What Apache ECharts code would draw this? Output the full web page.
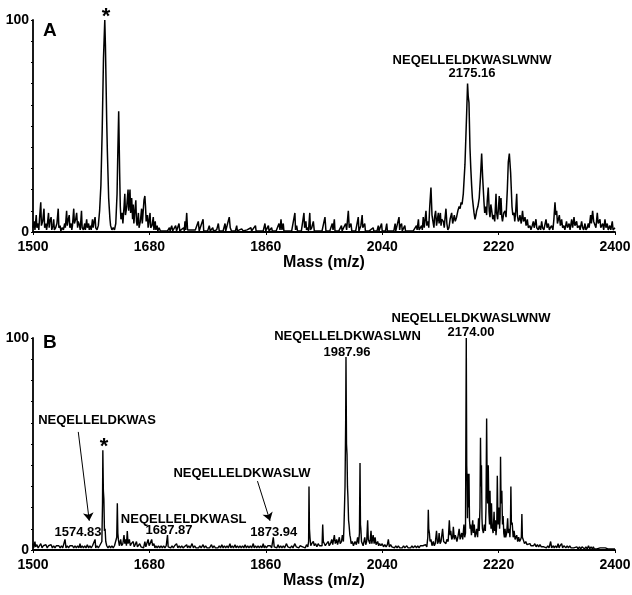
<!DOCTYPE html>
<html><head><meta charset="utf-8">
<script src="https://cdn.jsdelivr.net/npm/echarts@6/dist/echarts.min.js"></script>
<style>html,body{margin:0;padding:0;background:#fff}#c{width:632px;height:595px}</style>
</head><body><div id="c"></div>
<script>
// ---------- data ----------
const massTicks = [1500, 1680, 1860, 2040, 2220, 2400];
const abundanceTicks = [0, 10, 20, 30, 40, 50, 60, 70, 80, 90, 100];
const abundanceLabels = [0, 100];

// Panel A spectrum [m/z, relative abundance]
const spectrumA_low = [
[1500,2],[1502,5],[1503,1],[1505,8],[1506,2],[1508,4],[1509,1],[1510,6],[1512,14],[1513,3],[1515,5],[1517,11],[1518,2],[1520,4],[1521,1],[1522,3],[1524,9],[1525,2],[1526,5],[1528,7],[1529,1],[1531,3],[1532,6],[1533,1],[1535,2],[1537,4],[1539,11],[1540,2],[1542,3],[1543,0.5],[1545,2],[1547,1],[1549,4],[1550,2],[1552,10],[1553,3],[1554,5],[1556,8],[1557,2],[1559,4],[1560,1],[1561,3],[1563,11],[1564,4],[1566,6],[1567.5,9],[1569,2],[1570,5],[1572,3],[1573,1],[1575,10],[1576,2],[1578,1],[1580,4],[1581,1],[1583,6],[1584,2],[1586,4],[1587,1],[1589,3],[1590,1],[1592,6],[1593,2],[1594,4],[1596,7],[1597,2],[1599,1],
[1601,3],[1603,10],[1605,22],[1607,48],[1609,82],[1611,100],[1612,88],[1613,70],[1614,52],[1615,38],[1617,16],[1619,6],[1620,3],[1622,1],[1624,2],[1626,1],[1628,4],[1630,18],[1631,35],[1632.5,57],[1634,28],[1635,12],[1636,6],[1638,9],[1639,4],[1641,13],[1642,18],[1643,8],[1645,12],[1647,20],[1648,10],[1650,20],[1651,9],[1652.6,16],[1654,6],[1655,13],[1656,4],[1657,8],[1659,15],[1660,5],[1661,3],[1663,9],[1664,2],[1666,5],[1668,11],[1669,4],[1670,8],[1671.6,15],[1673,17],[1674,12],[1675,5],[1677,8],[1678,2],[1679,4],[1681,9],[1682,2],[1684,3],[1686,7],[1687,1],[1689,5],[1690,1],[1692,3],[1693,0.5],[1695,2],[1697,0.5],[1700,1],[1703,0.5],[1705,1]
];
const spectrumA_mid = [
[1708,0.5],[1711,2],[1712,0.5],[1714.5,3],[1716,0.5],[1719,1],[1720.6,3],[1722,0.5],[1724,1],[1725.8,4],[1727,0.5],[1730,1],[1733,2],[1734,0.5],[1735,5],[1736,1],[1737.7,9],[1739,1],[1742,0.5],[1745,1],[1748,0.5],[1751,1],[1753,0.5],[1755.6,5],[1757,0.5],[1760,1],[1763,6],[1764,0.5],[1767,1],[1770,0.5],[1772.6,3],[1774,0.5],[1776,1],[1778,2],[1779,0.5],[1782,0.5],[1784,1],[1786.6,4],[1788,0.5],[1791,1],[1794,0.5],[1797,4],[1798,0.5],[1801,1],[1803.5,7],[1805,2],[1807,0.5],
[1810,1],[1813,0.5],[1815,3],[1816,0.5],[1819,1],[1822.7,1.5],[1825,0.5],[1828,0.5],[1831,1],[1834,0.5],[1837,2],[1838,0.5],[1841,1],[1844,3],[1845,0.5],[1848,1],[1851,0.5],[1854,1],[1856,0.5],[1858.7,4],[1860,0.5],[1862,1],[1864,3],[1865,0.5],[1867,1],[1869,2],[1870,0.5],[1873,1],[1876,0.5],[1878,1],[1880.4,4],[1882,1],[1883.5,6],[1885,1],[1887,4],[1888,0.5],[1891,1],[1894,0.5],[1897,1],[1900,0.5],[1903,1],[1905,9],[1906,1],[1907.7,3],[1909,0.5],[1912,1],[1915,0.5],[1917,1],[1919,9],[1920,2],[1922,5],[1923,1],[1925,2],[1926,0.5],[1928,9],[1929,1],[1931,2],[1933.5,5],[1935,0.5],[1938,1],[1941,0.5],[1944,1],[1947,0.5],[1949,1],[1951.5,7],[1953,0.5],[1956,1],[1959,0.5],[1961,1],[1962.8,4],[1964,1],[1966,6],[1967,0.5],[1970,1],[1973,0.5],[1975,1],[1977,3],[1978,0.5],[1980,1],[1983.5,4],[1985,1],[1987.6,10],[1989,2],[1991.7,4],[1993,0.5],[1996,1],[1999,0.5],[2001,1],[2003,7],[2004,0.5],[2006,1],[2007,3],[2009,8],[2010,2],[2013,4],[2014,0.5],[2017,1],[2020,0.5],[2023,1],[2026,2],[2027,0.5],[2030,1],[2032,0.5],[2034,3],[2035,0.5],[2037,1],[2039,4],[2040,0.5],[2043,1],[2045,0.5],[2047,4],[2048,0.5],[2051,1],[2054,0.5],[2057,1],[2058,0.5],[2060,4],[2061,0.5],[2063,1],[2064,0.5],[2066,7],[2067,1],[2068,3],[2070,4],[2071,0.5],[2073,1],[2075,3],[2076,0.5],[2079,1],[2082,0.5],[2085,1],[2088,0.5],[2090,1],[2093,3],[2094,1],[2096,6],[2097,1],[2099,2],[2101,3],[2102,1]
];
const spectrumA_high = [
[2103.5,7],[2105,2],[2107.7,10],[2109,3],[2111,5],[2112,2],[2113.5,12],[2115.4,21],[2117,8],[2119,4],[2120,2],[2121,7],[2122.6,10],[2124,3],[2125,5],[2126.8,9],[2128,4],[2130,9],[2131,3],[2132,6],[2134.5,5],[2136,2],[2137,6],[2138.6,11],[2140,4],[2141.5,1],[2143.2,2],[2145,6],[2147.4,9],[2149,4],[2151.5,8],[2153,5],[2155,7],[2157,10],[2159,12],[2160.5,11],[2162,14],[2163.5,13],[2165.4,18],[2166.5,24],[2168,32],[2170.6,56],[2172,70],[2173,64],[2174.2,61],[2175.7,40],[2177,30],[2178.3,22],[2179.5,16],[2180.9,12],[2182,9],[2183.5,6],[2185,8],[2186,10],[2188,12],[2190,16],[2192,26],[2193.8,37],[2195.3,26],[2197.4,14],[2198.5,9],[2200,12],[2201.5,8],[2202.5,15],[2204,21],[2205.5,10],[2206.7,7],[2208,13],[2209,11],[2211,6],[2212.8,8],[2214,5],[2216,18],[2217,9],[2218.5,6],[2219.5,10],[2221,17],[2222.5,8],[2223.7,16],[2225,7],[2226,5],[2228,9],[2230,10],[2231.5,7],[2233.5,20],[2235,33],[2236.6,37],[2238.6,28],[2240.7,12],[2242,8],[2243.8,9],[2245,5],[2246.5,10],[2248,18],[2249,8],[2250.5,5],[2252,6],[2253,8],[2255,4],[2257,10],[2258.5,5],[2260.8,7],[2262.5,3],[2264.4,6],[2266,2],[2268.5,3],[2270,1],[2272,3],[2273.7,5],[2275,2],[2277.8,6],[2279,2],[2281.4,1],[2283,3],[2285,1],[2286.6,5],[2288,2],[2290,1],[2293.3,6],[2295,2],[2296.9,4],[2298.5,1],[2300,2],[2302,3],[2304,1],[2305.5,6],[2307.2,14],[2308.5,8],[2309.8,10],[2311,4],[2312.5,6],[2313.9,8],[2315.5,3],[2317.5,6],[2319,2],[2321,3],[2322.5,1],[2325,5],[2326.5,2],[2329,4],[2330.5,1],[2333,6],[2334.5,2],[2336.6,7],[2338,3],[2340.7,5],[2342,2],[2344.8,3],[2346,1],[2348.4,5],[2350,2],[2351.5,1],[2353.6,4],[2355,1],[2357,2],[2358.7,4],[2360,2],[2362.3,8],[2363.5,4],[2365.4,10],[2367,5],[2369,5],[2370.5,2],[2372.6,9],[2374,4],[2376.8,6],[2378,2],[2381,4],[2382.5,1],[2384.5,6],[2386,2],[2388,4],[2389.5,1],[2392,3],[2393.5,1],[2395.8,5],[2397,1],[2400,2]
];

// Panel B spectrum
const spectrumB_low = [
[1500,3],[1501,1],[1503,4],[1504,1.5],[1506,2.5],[1508,1],[1510,2],[1512,3],[1514,1],[1516,2],[1518,1.5],[1520,2.5],[1522,1],[1524,2],[1526,1.5],[1528,2.5],[1530,1],[1532,2],[1534,1],[1536,2],[1538,1.5],[1540,2],[1542,1],[1544,2],[1546,1],[1548,1.5],[1549.5,5],[1551,1],[1553,2],[1555,1],[1557,2],[1559,1.5],[1561,2],[1563,1],[1565,2],[1567,1],[1569,2],[1571,1],[1572.7,3],[1574,1],[1576,2],[1578,1],[1580,2],[1582,1],[1584,2.5],[1586,1],[1588,2],[1590,1],[1592,2],[1594,1.5],[1596,5],[1597,1],[1599,2],[1601,1],[1603,2],[1605,1.5],[1606.5,4],[1607.5,22],[1608,47],[1608.8,28],[1609.6,24],[1610.5,9],[1611.5,10],[1612.5,4],[1614,2],[1616,1],[1618,2],[1620,1],[1622,2],[1624,1],[1626,2],[1628,1.5],[1629.5,6],[1630.4,22],[1631.2,8],[1632,5],[1633.5,2],[1635.6,5],[1637,2],[1639,3],[1640.7,7],[1642,3],[1643.3,5],[1644.5,2],[1645.8,9],[1647,3],[1649,5],[1650.5,2],[1652,3],[1655,4],[1656.5,1.5],[1658,2.5],[1660,4],[1661.5,1.5],[1663,2],[1665,3],[1667,1.5],[1669,2],[1671,1],[1673,4],[1674.5,1.5],[1676,2],[1678,5],[1679.5,2],[1681,3],[1683.5,5],[1685,2],[1687,3],[1688.5,1],[1690,2],[1692,1],[1694,2],[1696,1],[1698,2],[1700,1],[1702,2],[1704,1],[1706,2],[1708,7],[1709,1.5],[1711,2],[1713,1],[1715,2],[1717,1],[1719,2],[1722,3],[1724,1],[1726,2],[1728,1],[1730,2],[1732,1],[1734,1.5],[1737.7,2.5],[1739,1],[1741,2],[1743,1],[1746,3],[1748,1],[1750,2],[1752,1],[1754,1.5],[1756,1],[1758,2],[1760,1],[1763,2.5],[1765,1],[1767,2],[1769,1],[1771,1.5],[1773,1],[1776,2.5],[1778,1],[1780,2],[1782,1],[1784,1.5],[1786,1],[1788,2],[1790,1],[1792,2.5],[1794,1],[1796,2],[1798,1],[1800,2],[1802,1]
];
const spectrumB_mid = [
[1804.6,3],[1806,1],[1808,2],[1810,1],[1812.4,2.5],[1814,1],[1816,2],[1818,1],[1820,2],[1822,1],[1824,2],[1826,1],[1828,2.5],[1830,1],[1832,2],[1834,1],[1836,2],[1838,1],[1840.7,3],[1842,1],[1844,2],[1846,1],[1848,2],[1850,1],[1852,2],[1854,1],[1856,3],[1857.5,1],[1859,2],[1861,1],[1863,2],[1865,1.5],[1867,2],[1869,1],[1871.6,6],[1873,1.5],[1875,2],[1877,1],[1879,2.5],[1881,1],[1883,2],[1885,1],[1887,2],[1889,1],[1892,3],[1894,1.5],[1896,2],[1898,1],[1900,2],[1902,1],[1905,3],[1907,1.5],[1909,2],[1911,1],[1913,2],[1915.5,2.5],[1917,1.5],[1919,2],[1921,1],[1923,2.5],[1925,1.5],[1926.2,4],[1926.8,30],[1927.5,10],[1928.3,6],[1929.5,2],[1931,3],[1933.5,4],[1935,2],[1937,3],[1939,1.5],[1941,3],[1943,2],[1945,2.5],[1947,2],[1948,12],[1949,4],[1950,4],[1952,2],[1954,3],[1956.7,4],[1958,2],[1960,3],[1962,5],[1963.5,2.5],[1966,7],[1967.5,3],[1969.6,5],[1971,2.5],[1973.7,6],[1975,3],[1977,4],[1978.4,7],[1980,4],[1981,12],[1982.5,30],[1983.5,60],[1984,91],[1984.8,50],[1985.6,45],[1986.3,30],[1987,25],[1988,14],[1988.7,12],[1990,7],[1990.7,6],[1992,3],[1993.8,4],[1995.5,2],[1998,4],[2000,2.5],[2002,6],[2003.5,3],[2004.8,8],[2005.7,41],[2006.4,12],[2007,10],[2008,4],[2009,4],[2010.5,2],[2013,6],[2014.5,2.5],[2016,4],[2017.5,14],[2018.5,5],[2019.6,5],[2021,3],[2022.7,9],[2024,3],[2026,7],[2027.5,3],[2029,6],[2030.5,2.5],[2033,4],[2034.5,2],[2036,3],[2038,2],[2040,3],[2042,1.5],[2044,2.5],[2046,1.5],[2048,2.5],[2049.5,5],[2051,1.5],[2053,2.5],[2055,1.5],[2057,2],[2059,1],[2061,2],[2063,1],[2065,2],[2067,1],[2069,1.5],[2071,1],[2073,2],[2075,1],[2078,2],[2080,1],[2082,1.5],[2084,1],[2086,2],[2088,1],[2091,2],[2093,1],[2095,2],[2097,1],[2099,2],[2101,1.5],[2103,2],[2105,1.5],[2107,2.5],[2109,1.5]
];
const spectrumB_high = [
[2110.5,6],[2111.3,19],[2112,10],[2113,8],[2114,4],[2115.4,5],[2117,2],[2119,4],[2120.5,2],[2122,3],[2124,9],[2125.5,3],[2127,4],[2128,8],[2129.5,3],[2131,4],[2133.4,10],[2135,4],[2137,4],[2138.5,3],[2140,5],[2142,4],[2143.8,14],[2145,7],[2146,9],[2147.5,5],[2149,6],[2150,11],[2151.5,5],[2153,7],[2154,6],[2155.5,4],[2157,6],[2159,10],[2160.5,5],[2162,7],[2163,8],[2164.5,5],[2166.4,12],[2167.5,6],[2168.8,8],[2170,100],[2170.7,40],[2171.3,33],[2171.9,15],[2172.6,36],[2173.4,20],[2174.2,36],[2175,14],[2176,10],[2176.8,12],[2178,7],[2180,14],[2181,8],[2182.4,12],[2183.5,6],[2185,8],[2186,10],[2187.5,6],[2189,15],[2190,9],[2191.2,20],[2192,53],[2192.8,30],[2193.5,40],[2194.3,15],[2195,10],[2196.5,8],[2198,12],[2199.5,9],[2200.5,20],[2201.5,62],[2202.3,30],[2203,22],[2204,40],[2205,18],[2206,12],[2206.7,28],[2207.5,14],[2208.3,10],[2209,22],[2210,11],[2211.5,8],[2213,18],[2214,9],[2215,14],[2216,7],[2217.2,12],[2218,35],[2218.8,18],[2219.5,12],[2220.6,20],[2221.5,10],[2222.3,15],[2223,44],[2223.8,22],[2225,28],[2226,12],[2227,16],[2228,8],[2229,6],[2230,10],[2231,6],[2232.5,8],[2234,15],[2235,8],[2236.5,10],[2237.5,6],[2238.3,12],[2239,30],[2239.8,12],[2241,13],[2242.5,6],[2244,9],[2245.5,5],[2247,5],[2248,7],[2249.5,4],[2251,6],[2252.5,4],[2254,5],[2255.2,6],[2256,17],[2256.8,6],[2258,5],[2260,3],[2262,4],[2264,2.5],[2266,3],[2268.5,3],[2270,2],[2272,2.5],[2274,2],[2276,3],[2278,1.5],[2280,2.5],[2282,1.5],[2284,2.5],[2286,1.5],[2288,2],[2290,1.5],[2292,2],[2294,1],[2296,2],[2298,1],[2300.5,4],[2302,1],[2304.6,2],[2306,1],[2308,2],[2310,1],[2312,3],[2313.5,1],[2315,2],[2317.5,3],[2319,1],[2321,2],[2322.6,2.5],[2324,1],[2326,2],[2328,1],[2330,2],[2332,1],[2334,1.5],[2336,1],[2338,1.5],[2341,1.5],[2343,0.5],[2345,1.5],[2347,0.5],[2349,1.5],[2351,1.5],[2353,0.5],[2355,1.5],[2357,0.5],[2359,2],[2361,0.5],[2363,1.5],[2365,0.5],[2366.5,1.5],[2368,0.5],[2370,1],[2372,0.5],[2374,1],[2377,1],[2379,0.5],[2381,1],[2383,0.5],[2385,1],[2387,1],[2389,0.5],[2391,1],[2393,0.5],[2395,1],[2397,0.5],[2400,0.5]
];

// Annotations (text anchored at data coordinates)
const notesA = [
  {kind:'letter', text:'A', at:[1526, 94.8]},
  {kind:'star', text:'*', at:[1612.9, 101.5]},
  {kind:'label', text:'NEQELLELDKWASLWNW', at:[2178.9, 81.1]},
  {kind:'label', text:'2175.16', at:[2178.9, 75]}
];
const notesB = [
  {kind:'letter', text:'B', at:[1526, 97.6]},
  {kind:'star', text:'*', at:[1609.8, 48.4]},
  {kind:'label', text:'NEQELLELDKWAS', at:[1599, 61.3]},
  {kind:'label', text:'1574.83', at:[1569.6, 8.5]},
  {kind:'label', text:'NEQELLELDKWASL', at:[1733, 14.6]},
  {kind:'label', text:'1687.87', at:[1710.3, 9.0]},
  {kind:'label', text:'NEQELLELDKWASLW', at:[1823.2, 36.3]},
  {kind:'label', text:'1873.94', at:[1872.3, 8.5]},
  {kind:'label', text:'NEQELLELDKWASLWN', at:[1986.3, 100.9]},
  {kind:'label', text:'1987.96', at:[1985.6, 93.4]},
  {kind:'label', text:'NEQELLELDKWASLWNW', at:[2177.3, 109.4]},
  {kind:'label', text:'2174.00', at:[2177.3, 102.8]}
];
const arrowsB = [
  {from:[1570, 55.7], to:[1587, 13.8]},
  {from:[1847.1, 32.5], to:[1866.5, 13.8]}
];

// ---------- chart ----------
const F = '"Liberation Sans", Arial, sans-serif';
const chart = echarts.init(document.getElementById('c'), null, {renderer:'canvas'});
const spectrumA = spectrumA_low.concat(spectrumA_mid, spectrumA_high);
const spectrumB = spectrumB_low.concat(spectrumB_mid, spectrumB_high);

function xAxis(gi){
  return {type:'value', gridIndex:gi, min:1500, max:2400,
    name:'Mass (m/z)', nameLocation:'middle', nameGap:22,
    nameTextStyle:{fontFamily:F, fontWeight:'bold', fontSize:16, color:'#000'},
    axisLine:{show:true, onZero:false, lineStyle:{color:'#000', width:1.8}},
    axisTick:{show:true, customValues:massTicks, length:3, lineStyle:{color:'#000', width:1}},
    axisLabel:{customValues:massTicks, margin:8, fontFamily:F, fontWeight:'bold', fontSize:14, color:'#000',
      formatter: v => String(v)},
    splitLine:{show:false}};
}
function yAxis(gi){
  return {type:'value', gridIndex:gi, min:0, max:100,
    name:'Relative Abundance', nameLocation:'middle', nameGap:10, nameRotate:90,
    nameTextStyle:{fontFamily:F, fontWeight:'bold', fontSize:16, color:'#000'},
    axisLine:{show:true, lineStyle:{color:'#000', width:1.8}},
    axisTick:{show:true, customValues:abundanceTicks, length:2, lineStyle:{color:'#000', width:1}},
    axisLabel:{customValues:abundanceLabels, margin:4, fontFamily:F, fontWeight:'bold', fontSize:14, color:'#000',
      formatter: v => String(v)},
    splitLine:{show:false}};
}

chart.setOption({
  animation:false,
  backgroundColor:'#fff',
  grid:[
    {left:33, right:17, top:20, height:212, containLabel:false, outerBoundsMode:'none'},
    {left:33, right:17, top:338, height:212, containLabel:false, outerBoundsMode:'none'}
  ],
  xAxis:[xAxis(0), xAxis(1)],
  yAxis:[yAxis(0), yAxis(1)],
  series:[
    {type:'line', xAxisIndex:0, yAxisIndex:0, data:spectrumA, showSymbol:false, symbol:'none',
     lineStyle:{color:'#000', width:1.5}, silent:true},
    {type:'line', xAxisIndex:1, yAxisIndex:1, data:spectrumB, showSymbol:false, symbol:'none',
     lineStyle:{color:'#000', width:1.4}, silent:true,
     markLine:{silent:true, animation:false, symbol:['none','arrow'], symbolSize:8,
       lineStyle:{color:'#000', width:1, type:'solid'}, itemStyle:{color:'#000'}, label:{show:false},
       emphasis:{disabled:true},
       data:arrowsB.map(a => [{coord:a.from}, {coord:a.to}])}}
  ]
});

function fontFor(kind){
  if (kind === 'letter') return 'bold 19px ' + F;
  if (kind === 'star') return 'bold 22px ' + F;
  return 'bold 13px ' + F;
}
const graphics = [];
[[0, notesA], [1, notesB]].forEach(([gi, notes]) => {
  notes.forEach(n => {
    const p = chart.convertToPixel({gridIndex:gi}, n.at);
    graphics.push({type:'text', x:p[0], y:p[1], silent:true,
      style:{text:n.text, font:fontFor(n.kind), fill:'#000',
        align:'center', verticalAlign:'middle', textAlign:'center', textVerticalAlign:'middle'}});
  });
});
chart.setOption({graphic:graphics});
</script>
</body></html>
